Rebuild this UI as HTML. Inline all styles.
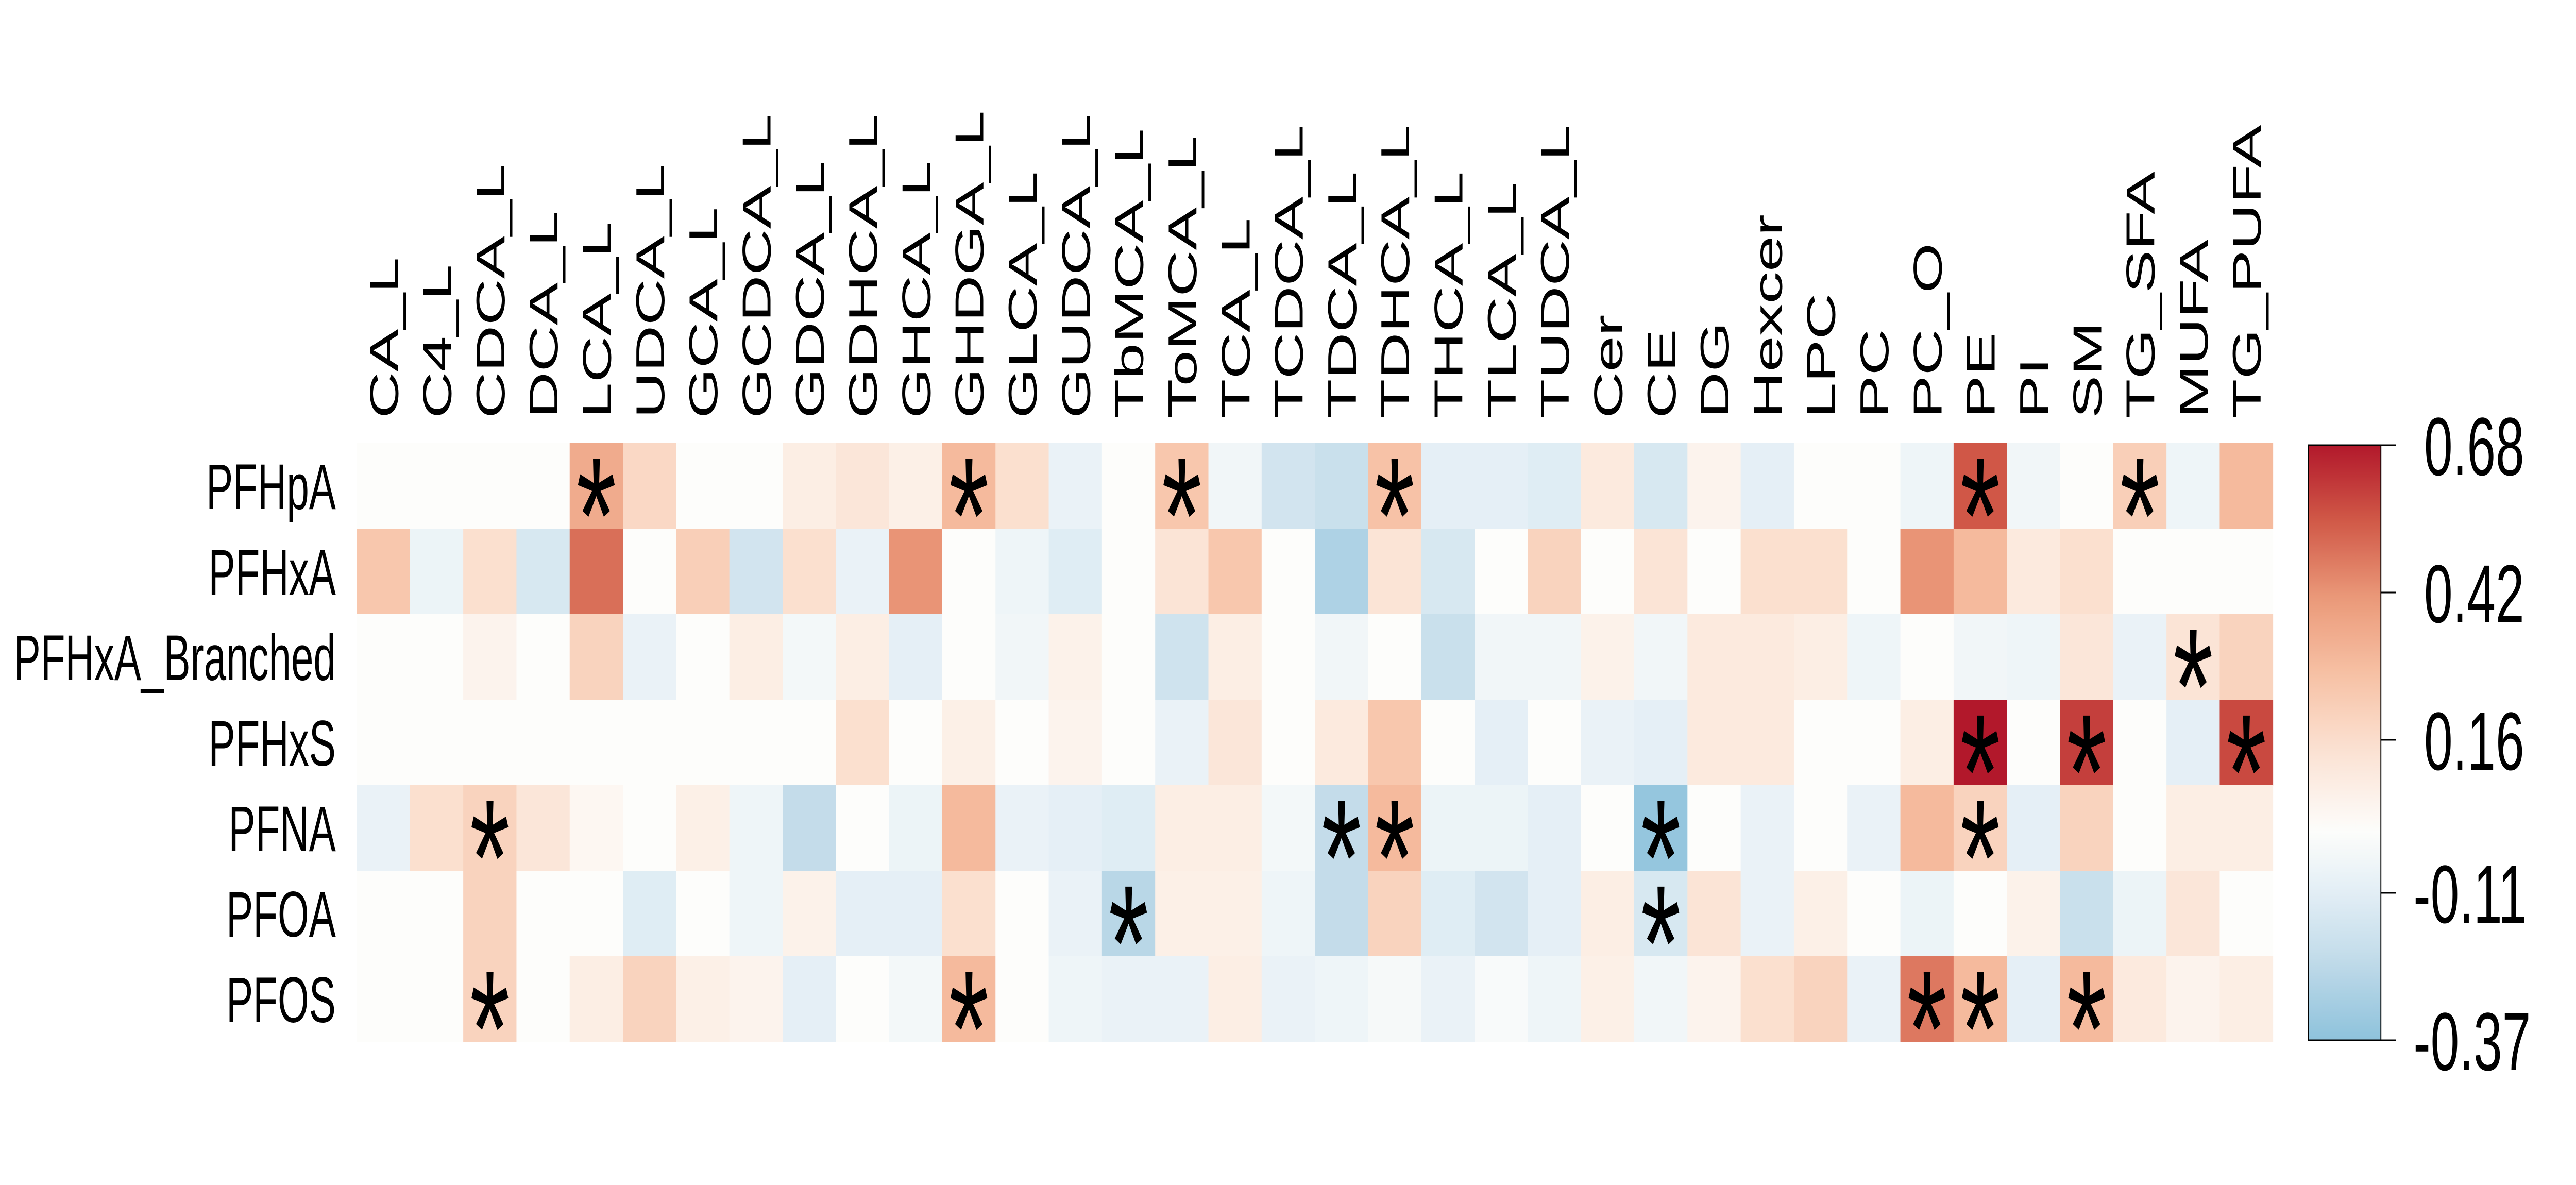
<!DOCTYPE html>
<html><head><meta charset="utf-8"><style>
html,body{margin:0;padding:0;background:#fff;overflow:hidden;width:100%;height:100%;}
svg{display:block;width:100vw;height:100vh;font-family:"Liberation Sans",Arial,sans-serif;}
</style></head><body>
<svg id="chart" viewBox="0 0 8000 2300" preserveAspectRatio="none" xmlns="http://www.w3.org/2000/svg">
<rect x="0" y="0" width="8000" height="2300" fill="#ffffff"/>
<g id="cells"></g>
<g id="stars"></g>
<g id="rowlabels"></g>
<g id="collabels"></g>
<g id="legend"></g>
</svg>
<script>
const columns = ["CA_L","C4_L","CDCA_L","DCA_L","LCA_L","UDCA_L","GCA_L","GCDCA_L","GDCA_L","GDHCA_L","GHCA_L","GHDGA_L","GLCA_L","GUDCA_L","TbMCA_L","ToMCA_L","TCA_L","TCDCA_L","TDCA_L","TDHCA_L","THCA_L","TLCA_L","TUDCA_L","Cer","CE","DG","Hexcer","LPC","PC","PC_O","PE","PI","SM","TG_SFA","MUFA","TG_PUFA"];
const rows = ["PFHpA","PFHxA","PFHxA_Branched","PFHxS","PFNA","PFOA","PFOS"];
const valPFHpA = [0,0,0,0,0.35,0.18,0,0,0.08,0.12,0.07,0.3,0.15,-0.08,0,0.25,-0.05,-0.17,-0.2,0.27,-0.1,-0.1,-0.12,0.1,-0.15,0.05,-0.1,0,0,-0.06,0.55,-0.05,0,0.22,-0.06,0.3];
const valPFHxA = [0.25,-0.07,0.15,-0.15,0.5,0,0.22,-0.17,0.15,-0.08,0.42,0,-0.06,-0.12,0,0.13,0.25,0,-0.28,0.13,-0.15,0,0.2,0,0.13,0,0.15,0.15,0,0.42,0.3,0.1,0.15,0,0,0];
const valPFHxABr = [0,0,0.05,0,0.2,-0.08,0,0.08,-0.04,0.08,-0.1,0,-0.05,0.06,0,-0.18,0.08,0,-0.05,0,-0.2,-0.05,-0.05,0.06,-0.05,0.1,0.1,0.08,-0.06,0,-0.05,-0.06,0.12,-0.08,0.13,0.2];
const valPFHxS = [0,0,0,0,0,0,0,0,0,0.15,0,0.07,0,0.05,0,-0.08,0.12,0,0.1,0.25,0,-0.1,0,-0.08,-0.1,0.1,0.1,0,0,0.08,0.68,0,0.6,0,-0.1,0.58];
const valPFNA = [-0.08,0.15,0.2,0.12,0.03,0,0.07,-0.06,-0.22,0,-0.07,0.3,-0.08,-0.1,-0.12,0.08,0.08,-0.04,-0.22,0.3,-0.07,-0.07,-0.1,0,-0.35,0,-0.08,0,-0.08,0.3,0.2,-0.1,0.2,0,0.08,0.08];
const valPFOA = [0,0,0.2,0,0,-0.12,0,-0.06,0.06,-0.1,-0.1,0.15,0,-0.08,-0.25,0.07,0.07,-0.06,-0.22,0.2,-0.12,-0.17,-0.1,0.08,-0.15,0.13,-0.08,0.07,0,-0.07,0,0.06,-0.2,-0.07,0.12,0];
const valPFOS = [0,0,0.2,0,0.08,0.2,0.07,0.05,-0.1,0,-0.04,0.3,0,-0.06,-0.08,-0.08,0.08,-0.08,-0.06,-0.03,-0.08,-0.02,-0.06,0.07,-0.05,0.05,0.15,0.2,-0.08,0.48,0.3,-0.1,0.3,0.1,0.05,0.08];
const values = [valPFHpA,valPFHxA,valPFHxABr,valPFHxS,valPFNA,valPFOA,valPFOS];
const starRows = [0,0,0,0,0,0,2,3,3,3,4,4,4,4,4,5,5,6,6,6,6,6];
const starCols = [4,11,15,19,30,33,34,30,32,35,2,18,19,24,30,14,24,2,11,29,30,32];
const legendTicks = [0.68,0.42,0.16,-0.11,-0.37];
const legendTickLabels = ["0.68","0.42","0.16","-0.11","-0.37"];
const vMin = -0.37, vMax = 0.68;

const NS = "http://www.w3.org/2000/svg";
const X0 = 1108, Y0 = 860, CW = 165.3, CH = 166;
function xScale(c){ return X0 + c*CW; }
function yScale(r){ return Y0 + r*CH; }
function hex(h){ return [parseInt(h.slice(1,3),16),parseInt(h.slice(3,5),16),parseInt(h.slice(5,7),16)]; }
function interp(stops,t){
  for(let i=1;i<stops.length;i++){
    if(t<=stops[i][0]){
      const a=stops[i-1], b=stops[i]; const f=(t-a[0])/(b[0]-a[0]);
      const ca=hex(a[1]), cb=hex(b[1]);
      return "rgb("+ca.map((v,k)=>Math.round(v+(cb[k]-v)*f)).join(",")+")";
    }
  }
  return stops[stops.length-1][1];
}
const posStops=[[0,"#fdfdfb"],[0.2,"#fbe3d4"],[0.4,"#f7c2a6"],[0.6,"#eb9a7a"],[0.8,"#d15a48"],[1,"#b2182b"]];
const negStops=[[0,"#fdfdfb"],[0.3,"#e2eef5"],[0.6,"#c3dcea"],[1,"#8ec2dc"]];
function color(v){
  if(v>=0) return interp(posStops, Math.min(1,v/vMax));
  return interp(negStops, Math.min(1,v/vMin));
}
function mk(tag, attrs, parent){
  const e=document.createElementNS(NS,tag);
  for(const k in attrs) e.setAttribute(k,attrs[k]);
  parent.appendChild(e); return e;
}
const gCells=document.getElementById("cells");
values.forEach((rowVals,r)=>{
  rowVals.forEach((v,c)=>{
    const el=mk("rect",{x:xScale(c),y:yScale(r),width:CW+0.6,height:CH+0.6,fill:color(v)},gCells);
    
    
  });
});
const gStars=document.getElementById("stars");
starCols.forEach((c,i)=>{
  const r=starRows[i];
  const t=mk("text",{x:xScale(c)+CW/2,y:yScale(r)+CH/2+168,"font-size":320,"text-anchor":"middle",fill:"#000"},gStars);
  t.textContent="*";
  
  
});
const gRows=document.getElementById("rowlabels");
rows.forEach((name,r)=>{
  const t=mk("text",{x:1043,y:yScale(r)+CH/2+45,"font-size":125,"text-anchor":"end",fill:"#000"},gRows);
  t.textContent=name;
  
  
});
const gCols=document.getElementById("collabels");
columns.forEach((name,c)=>{
  const cx=xScale(c)+CW/2+45, cy=812;
  const t=mk("text",{x:cx,y:cy,"font-size":125,"text-anchor":"start",fill:"#000",transform:"rotate(-90 "+cx+" "+cy+")"},gCols);
  t.textContent=name;
  
  
});
const gLeg=document.getElementById("legend");
const LX=7169, LW=225, LT=864, LB=2019;
function lScale(v){ return LB - (v-vMin)/(vMax-vMin)*(LB-LT); }
const defs=mk("defs",{},gLeg);
const grad=mk("linearGradient",{id:"lg",x1:0,y1:1,x2:0,y2:0},defs);
for(let i=0;i<=40;i++){
  const v=vMin+(vMax-vMin)*i/40;
  mk("stop",{offset:(i/40),"stop-color":color(v)},grad);
}
const bar=mk("rect",{x:LX,y:LT,width:LW,height:LB-LT,fill:"url(#lg)",stroke:"#000","stroke-width":3},gLeg);


legendTicks.forEach((v,i)=>{
  const y=lScale(v);
  const ln=mk("line",{x1:LX+LW,x2:LX+LW+47,y1:y,y2:y,stroke:"#000","stroke-width":3},gLeg);
  
  
  const lab=legendTickLabels[i];
  const t=mk("text",{x:lab.startsWith("-")?7495:7528,y:y+58,"font-size":160,fill:"#000"},gLeg);
  t.textContent=lab;
  
  
});
</script>
</body></html>
